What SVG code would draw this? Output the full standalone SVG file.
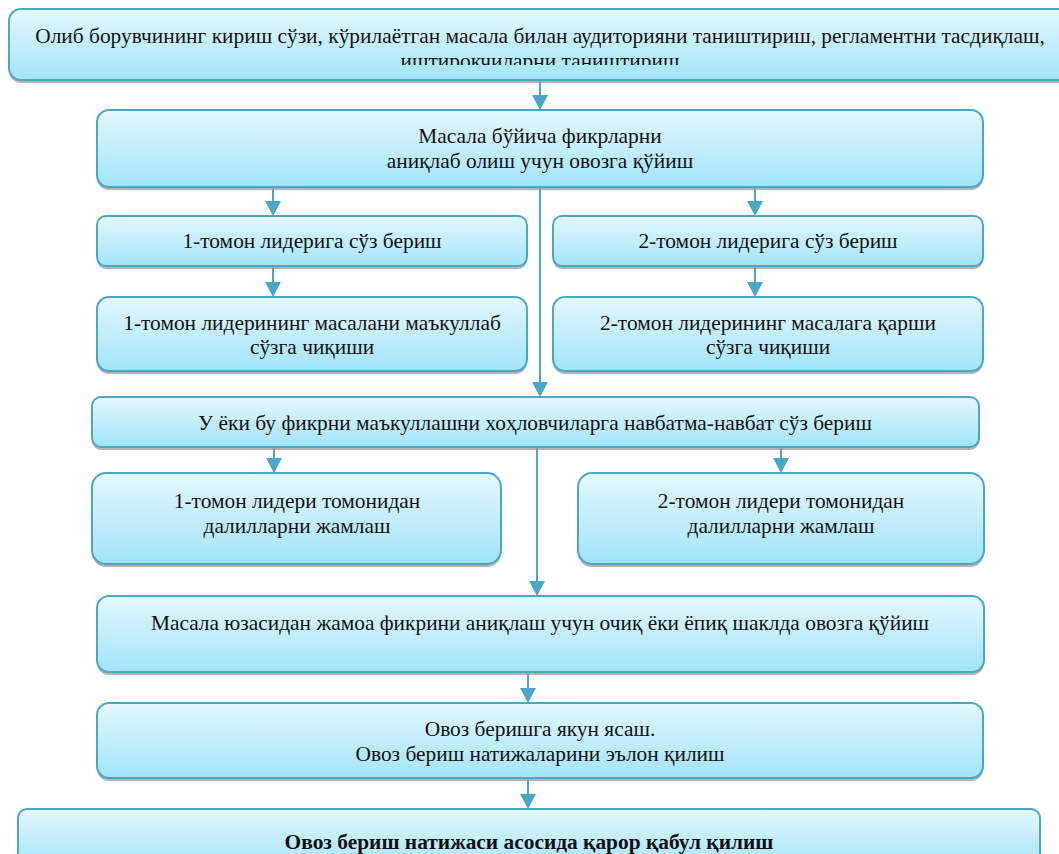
<svg xmlns="http://www.w3.org/2000/svg" width="1059" height="854" viewBox="0 0 1059 854">
<defs>
<linearGradient id="g" x1="0" y1="0" x2="0" y2="1">
<stop offset="0" stop-color="#e4f8fe"/>
<stop offset="1" stop-color="#a2e4fa"/>
</linearGradient>
<clipPath id="c1"><rect x="0" y="0" width="1059" height="65"/></clipPath>
<style>
.box{fill:url(#g);stroke:#4aa8c6;stroke-width:2}
.sh{fill:#9a9a9a;opacity:0.75}
.t{font-family:"Liberation Serif","Times New Roman","DejaVu Serif",serif;font-size:21.4px;fill:#111;text-anchor:middle}
.b{font-weight:bold}
.cn{stroke:#48a8c5;stroke-width:2;fill:none}
.ah{fill:#48a8c5}
</style>
</defs>
<rect width="1059" height="854" fill="#fff"/>
<g id="connectors">
<line class="cn" x1="540" y1="80" x2="540" y2="95"/><path class="ah" d="M532,95 L548,95 L540,110 Z"/>
<line class="cn" x1="273" y1="187" x2="273" y2="201"/><path class="ah" d="M265,201 L281,201 L273,216 Z"/>
<line class="cn" x1="755" y1="187" x2="755" y2="201"/><path class="ah" d="M747,201 L763,201 L755,216 Z"/>
<line class="cn" x1="273" y1="266" x2="273" y2="282"/><path class="ah" d="M265,282 L281,282 L273,297 Z"/>
<line class="cn" x1="755" y1="266" x2="755" y2="282"/><path class="ah" d="M747,282 L763,282 L755,297 Z"/>
<line class="cn" x1="540" y1="187" x2="540" y2="382"/><path class="ah" d="M532,382 L548,382 L540,397 Z"/>
<line class="cn" x1="274" y1="447" x2="274" y2="458"/><path class="ah" d="M266,458 L282,458 L274,473 Z"/>
<line class="cn" x1="781" y1="447" x2="781" y2="458"/><path class="ah" d="M773,458 L789,458 L781,473 Z"/>
<line class="cn" x1="537" y1="447" x2="537" y2="581"/><path class="ah" d="M529,581 L545,581 L537,596 Z"/>
<line class="cn" x1="528" y1="672" x2="528" y2="688"/><path class="ah" d="M520,688 L536,688 L528,703 Z"/>
<line class="cn" x1="528" y1="778" x2="528" y2="794"/><path class="ah" d="M520,794 L536,794 L528,809 Z"/>
</g>
<g id="n1">
<rect class="sh" x="9" y="12" width="1062" height="71" rx="12"/>
<rect class="box" x="9" y="9" width="1062" height="71" rx="12"/>
<g clip-path="url(#c1)">
<text class="t" x="540" y="43">Олиб борувчининг кириш сўзи, кўрилаётган масала билан аудиторияни таништириш, регламентни тасдиқлаш,</text>
<text class="t" x="540" y="68">иштирокчиларни таништириш</text>
</g>
</g>
<g id="n2">
<rect class="sh" x="97" y="113" width="886" height="77" rx="12"/>
<rect class="box" x="97" y="110" width="886" height="77" rx="12"/>
<text class="t" x="540" y="143">Масала бўйича фикрларни</text>
<text class="t" x="540" y="168">аниқлаб олиш учун овозга қўйиш</text>
</g>
<g id="n3">
<rect class="sh" x="97" y="219" width="430" height="50" rx="9"/>
<rect class="box" x="97" y="216" width="430" height="50" rx="9"/>
<text class="t" x="312" y="248">1-томон лидерига сўз бериш</text>
</g>
<g id="n4">
<rect class="sh" x="553" y="219" width="430" height="50" rx="9"/>
<rect class="box" x="553" y="216" width="430" height="50" rx="9"/>
<text class="t" x="768" y="248">2-томон лидерига сўз бериш</text>
</g>
<g id="n5">
<rect class="sh" x="97" y="300" width="430" height="74" rx="12"/>
<rect class="box" x="97" y="297" width="430" height="74" rx="12"/>
<text class="t" x="312" y="330">1-томон лидерининг масалани маъкуллаб</text>
<text class="t" x="312" y="354">сўзга чиқиши</text>
</g>
<g id="n6">
<rect class="sh" x="553" y="300" width="430" height="74" rx="12"/>
<rect class="box" x="553" y="297" width="430" height="74" rx="12"/>
<text class="t" x="768" y="330">2-томон лидерининг масалага қарши</text>
<text class="t" x="768" y="354">сўзга чиқиши</text>
</g>
<g id="n7">
<rect class="sh" x="92" y="400" width="887" height="50" rx="9"/>
<rect class="box" x="92" y="397" width="887" height="50" rx="9"/>
<text class="t" x="535" y="430">У ёки бу фикрни маъкуллашни хоҳловчиларга навбатма-навбат сўз бериш</text>
</g>
<g id="n8">
<rect class="sh" x="92" y="476" width="409" height="91" rx="14"/>
<rect class="box" x="92" y="473" width="409" height="91" rx="14"/>
<text class="t" x="297" y="508">1-томон лидери томонидан</text>
<text class="t" x="297" y="533">далилларни жамлаш</text>
</g>
<g id="n9">
<rect class="sh" x="578" y="476" width="406" height="91" rx="14"/>
<rect class="box" x="578" y="473" width="406" height="91" rx="14"/>
<text class="t" x="781" y="508">2-томон лидери томонидан</text>
<text class="t" x="781" y="533">далилларни жамлаш</text>
</g>
<g id="n10">
<rect class="sh" x="97" y="599" width="887" height="76" rx="12"/>
<rect class="box" x="97" y="596" width="887" height="76" rx="12"/>
<text class="t" x="540" y="630">Масала юзасидан жамоа фикрини аниқлаш учун очиқ ёки ёпиқ шаклда овозга қўйиш</text>
</g>
<g id="n11">
<rect class="sh" x="97" y="706" width="886" height="75" rx="12"/>
<rect class="box" x="97" y="703" width="886" height="75" rx="12"/>
<text class="t" x="540" y="736">Овоз беришга якун ясаш.</text>
<text class="t" x="540" y="761">Овоз бериш натижаларини эълон қилиш</text>
</g>
<g id="n12">
<rect class="sh" x="18" y="812" width="1022" height="60" rx="9"/>
<rect class="box" x="18" y="809" width="1022" height="60" rx="9"/>
<text class="t b" x="529" y="849">Овоз бериш натижаси асосида қарор қабул қилиш</text>
</g>
</svg>
